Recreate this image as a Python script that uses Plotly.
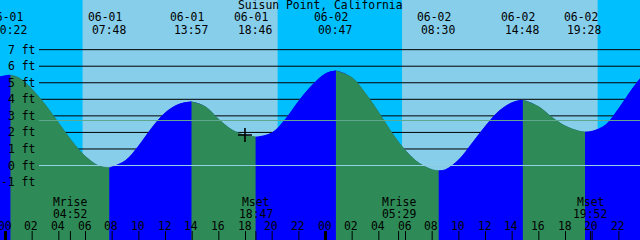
import plotly.graph_objects as go

# ---------------- data ----------------
title = "Suisun Point, California"

# tide height (ft) at hours after 06-01 00:00, incl. extremes
hours = [-0.45, 0, 0.37, 1, 2, 3, 4, 5, 6, 7, 7.8, 9, 10, 11, 12, 13, 13.95,
         15, 16, 17, 18, 18.77, 19, 20, 21, 22, 23, 24, 24.78, 26, 27, 28, 29,
         30, 31, 32, 32.5, 33, 34, 35, 36, 37, 38, 38.8, 40, 41, 42, 43, 43.47,
         44, 45, 46, 47, 47.65]
heights = [5.35, 5.43, 5.46, 5.3, 4.6, 3.65, 2.55, 1.45, 0.55, -0.02, -0.14,
           0.3, 1.2, 2.3, 3.2, 3.7, 3.85, 3.55, 2.78, 2.15, 1.82, 1.73, 1.74,
           1.98, 2.8, 3.9, 4.85, 5.55, 5.72, 5.3, 4.35, 3.2, 1.95, 0.9, 0.15,
           -0.25, -0.32, -0.25, 0.35, 1.35, 2.38, 3.28, 3.8, 3.95, 3.55, 2.9,
           2.38, 2.08, 2.02, 2.07, 2.45, 3.45, 4.62, 5.3]

ext_hours = [0.37, 7.8, 13.95, 18.77, 24.78, 32.5, 38.8, 43.47]
ext_dates = ["06-01", "06-01", "06-01", "06-01", "06-02", "06-02", "06-02", "06-02"]
ext_times = ["00:22", "07:48", "13:57", "18:46", "00:47", "08:30", "14:48", "19:28"]

moon_hours = [4.87, 18.78, 29.48, 43.87]
moon_names = ["Mrise", "Mset", "Mrise", "Mset"]
moon_times = ["04:52", "18:47", "05:29", "19:52"]

sunrise_hours = [5.78, 29.74]
sunset_hours = [20.41, 44.41]

ft_levels = [7, 6, 5, 4, 3, 2, 1, 0, -1]
ft_labels = [f"{v} ft" for v in ft_levels]
msl_level = 2.72
now_hour, now_height = 17.96, 1.84

hour_ticks = list(range(0, 48, 2))
hour_tick_labels = [f"{h % 24:02d}" for h in hour_ticks]

# ---------------- styling ----------------
W, H = 640, 240
X0, X1 = -0.4125, 47.5875
Y0, Y1 = -4.5, 10.0
NIGHT = "#00BFFF"
DAY = "#87CEEB"
FLOOD = "#0000FF"
EBB = "#2E8B57"
FONT = dict(family="DejaVu Sans Mono", size=11.4, color="black")
BASE = -6

fig = go.Figure()

# underlay fill for the whole curve (hides seams)
fig.add_trace(go.Scatter(x=[hours[0], hours[-1]], y=[BASE, BASE], mode="lines",
                         line=dict(width=0), hoverinfo="skip", showlegend=False))
fig.add_trace(go.Scatter(x=hours, y=heights, mode="lines", line_shape="spline",
                         line=dict(width=0, color=FLOOD), fill="tonexty",
                         fillcolor=FLOOD, hoverinfo="skip", showlegend=False))

# flood / ebb segments between extremes
bounds = [hours[0]] + ext_hours + [hours[-1]]
for a, b in zip(bounds[:-1], bounds[1:]):
    sx = [h for h in hours if a <= h <= b]
    sy = [heights[hours.index(h)] for h in sx]
    col = FLOOD if sy[-1] > sy[0] else EBB
    fig.add_trace(go.Scatter(x=[sx[0], sx[-1]], y=[BASE, BASE], mode="lines",
                             line=dict(width=0), hoverinfo="skip", showlegend=False))
    fig.add_trace(go.Scatter(x=sx, y=sy, mode="lines", line_shape="spline",
                             line=dict(width=0.8, color=col), fill="tonexty",
                             fillcolor=col, hoverinfo="skip", showlegend=False))

# "now" marker
fig.add_trace(go.Scatter(x=[now_hour], y=[now_height], mode="markers",
                         marker=dict(symbol="cross-thin", size=10,
                                     line=dict(width=1.6, color="black")),
                         hoverinfo="skip", showlegend=False))

shapes = []
# daytime bands
for sr, ss in zip(sunrise_hours, sunset_hours):
    shapes.append(dict(type="rect", xref="x", yref="paper", x0=sr, x1=ss, y0=0, y1=1,
                       fillcolor=DAY, line=dict(width=0), layer="below"))
# depth lines behind the tide
for v in ft_levels:
    shapes.append(dict(type="line", xref="paper", yref="y", x0=39 / W, x1=1, y0=v, y1=v,
                       line=dict(color="black", width=1), layer="below"))
# datum and mean lines over the tide
shapes.append(dict(type="line", xref="paper", yref="y", x0=39 / W, x1=1, y0=0, y1=0,
                   line=dict(color="#93d2ea", width=1), layer="above"))
shapes.append(dict(type="line", xref="paper", yref="y", x0=39 / W, x1=1,
                   y0=msl_level, y1=msl_level,
                   line=dict(color="#5fa890", width=1), layer="above"))
# hour ticks
for h in hour_ticks:
    shapes.append(dict(type="line", xref="x", yref="paper", x0=h, x1=h, y0=0, y1=9 / H,
                       line=dict(color="black", width=3 if h % 24 == 0 else 1),
                       layer="above"))
for h in moon_hours:
    shapes.append(dict(type="line", xref="x", yref="paper", x0=h, x1=h, y0=0, y1=9 / H,
                       line=dict(color="black", width=1), layer="above"))

ann = []


def py(px):
    return 1 - px / H


ann.append(dict(text=title, xref="paper", yref="paper", x=0.5, y=py(5),
                xanchor="center", yanchor="middle", showarrow=False, font=FONT))
for h, d, t in zip(ext_hours, ext_dates, ext_times):
    ann.append(dict(text=d, xref="x", yref="paper", x=h, y=py(17.5), xshift=-4.5,
                    xanchor="center", yanchor="middle", showarrow=False, font=FONT))
    ann.append(dict(text=t, xref="x", yref="paper", x=h, y=py(29.5), xshift=-0.8,
                    xanchor="center", yanchor="middle", showarrow=False, font=FONT))
for h, n, t in zip(moon_hours, moon_names, moon_times):
    ann.append(dict(text=n, xref="x", yref="paper", x=h, y=py(201.5),
                    xanchor="center", yanchor="middle", showarrow=False, font=FONT))
    ann.append(dict(text=t, xref="x", yref="paper", x=h, y=py(213.5),
                    xanchor="center", yanchor="middle", showarrow=False, font=FONT))
for h, lab in zip(hour_ticks, hour_tick_labels):
    ann.append(dict(text=lab, xref="x", yref="paper", x=h, y=py(225.5), xshift=-1,
                    xanchor="center", yanchor="middle", showarrow=False, font=FONT))
for v, lab in zip(ft_levels, ft_labels):
    ann.append(dict(text=lab, xref="paper", yref="y", x=37 / W, y=v,
                    xanchor="right", yanchor="middle", showarrow=False, font=FONT))

fig.update_layout(
    width=W, height=H, margin=dict(l=0, r=0, t=0, b=0),
    paper_bgcolor=NIGHT, plot_bgcolor=NIGHT,
    xaxis=dict(range=[X0, X1], visible=False, fixedrange=True),
    yaxis=dict(range=[Y0, Y1], visible=False, fixedrange=True),
    shapes=shapes, annotations=ann, showlegend=False,
)

fig.write_html("out.html")
